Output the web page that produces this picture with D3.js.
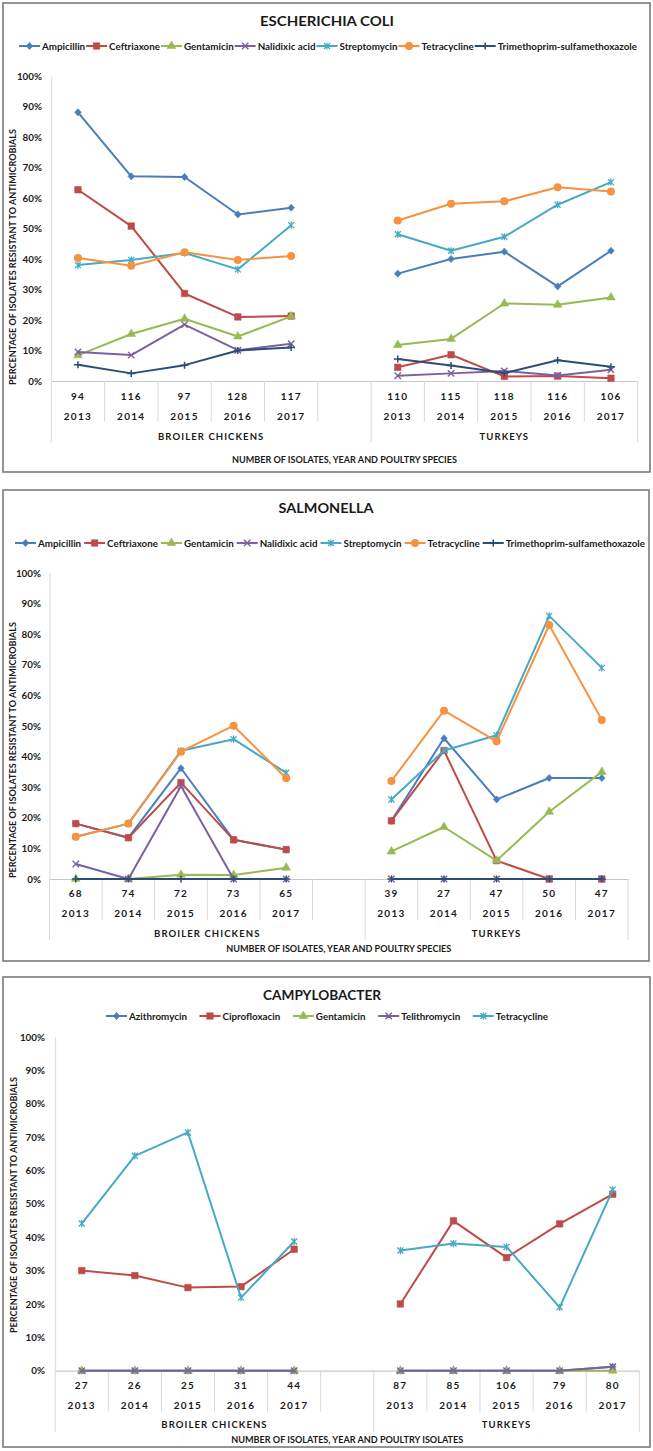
<!DOCTYPE html>
<html><head><meta charset="utf-8">
<script src="https://cdn.jsdelivr.net/npm/d3@7"></script>
<style>body{margin:0;background:#fff}svg{display:block}</style>
</head><body>
<svg id="c" width="653" height="1451"></svg>
<script>
// ---------- shared labels ----------
const years = ["2013","2014","2015","2016","2017"];
const groups = ["BROILER CHICKENS","TURKEYS"];
const yTicks = [0,10,20,30,40,50,60,70,80,90,100];
const yTitle = "PERCENTAGE OF ISOLATES RESISTANT TO ANTIMICROBIALS";

// ---------- Escherichia coli ----------
const ecoliTitle = "ESCHERICHIA COLI";
const ecoliXTitle = "NUMBER OF ISOLATES, YEAR AND POULTRY SPECIES";
const ecoliDrugs = ["Ampicillin","Ceftriaxone","Gentamicin","Nalidixic acid","Streptomycin","Tetracycline","Trimethoprim-sulfamethoxazole"];
const ecoliBroilerN = [94,116,97,128,117];
const ecoliTurkeyN = [110,115,118,116,106];
// values: 5 broiler years then 5 turkey years
const ecoliAmpicillin   = [88.1,67.1,66.9,54.6,56.8, 35.2,40.0,42.4,31.0,42.7];
const ecoliCeftriaxone  = [62.7,50.8,28.7,21.0,21.3,  4.5, 8.6, 1.5, 1.6, 0.9];
const ecoliGentamicin   = [ 8.4,15.4,20.4,14.6,21.2, 11.8,13.8,25.4,25.0,27.4];
const ecoliNalidixic    = [ 9.5, 8.5,18.5,10.1,12.2,  1.7, 2.5, 3.3, 1.8, 3.7];
const ecoliStreptomycin = [38.0,39.7,42.0,36.6,51.1, 48.1,42.7,47.3,57.8,65.2];
const ecoliTetracycline = [40.3,37.8,42.2,39.7,41.0, 52.6,58.1,58.9,63.5,62.1];
const ecoliTmpSmx       = [ 5.3, 2.5, 5.2,10.0,11.0,  7.2, 5.1, 2.6, 6.8, 4.7];

// ---------- Salmonella ----------
const salmTitle = "SALMONELLA";
const salmXTitle = "NUMBER OF ISOLATES, YEAR AND POULTRY SPECIES";
const salmDrugs = ecoliDrugs;
const salmBroilerN = [68,74,72,73,65];
const salmTurkeyN = [39,27,47,50,47];
const salmAmpicillin   = [18.1,13.5,36.2,12.8, 9.6, 19.0,46.0,26.0,33.0,33.0];
const salmCeftriaxone  = [18.1,13.5,31.5,12.8, 9.6, 19.0,42.0, 6.0, 0.0, 0.0];
const salmGentamicin   = [ 0.0, 0.0, 1.4, 1.3, 3.7,  9.0,17.0, 6.0,22.0,35.0];
const salmNalidixic    = [ 4.9, 0.0,30.4, 0.0, 0.0,  0.0, 0.0, 0.0, 0.0, 0.0];
const salmStreptomycin = [13.8,18.1,41.9,45.7,34.7, 26.0,42.0,47.0,86.0,69.0];
const salmTetracycline = [13.8,18.1,41.6,50.1,32.9, 32.0,55.0,45.0,83.0,52.0];
const salmTmpSmx       = [ 0.0, 0.0, 0.0, 0.0, 0.0,  0.0, 0.0, 0.0, 0.0, 0.0];

// ---------- Campylobacter ----------
const campyTitle = "CAMPYLOBACTER";
const campyXTitle = "NUMBER OF ISOLATES, YEAR AND POULTRY ISOLATES";
const campyDrugs = ["Azithromycin","Ciprofloxacin","Gentamicin","Telithromycin","Tetracycline"];
const campyBroilerN = [27,26,25,31,44];
const campyTurkeyN = [87,85,106,79,80];
const campyAzithromycin  = [ 0.0, 0.0, 0.0, 0.0, 0.0,  0.0, 0.0, 0.0, 0.0, 1.2];
const campyCiprofloxacin = [30.0,28.5,24.9,25.2,36.4, 20.0,44.9,33.9,44.0,52.9];
const campyGentamicin    = [ 0.0, 0.0, 0.0, 0.0, 0.0,  0.0, 0.0, 0.0, 0.0, 0.0];
const campyTelithromycin = [ 0.0, 0.0, 0.0, 0.0, 0.0,  0.0, 0.0, 0.0, 0.0, 1.2];
const campyTetracycline  = [44.1,64.4,71.4,21.9,38.7, 36.0,38.1,37.1,19.0,54.2];

// ---------- styling ----------
const seriesColors = ["#4A7EBB","#BE4B48","#98B954","#7D60A0","#46AAC5","#F69240","#2C4D75"];
const markerTypes  = ["diamond","square","triangle","x","star","circle","plus"];
const FONT = "Lato, 'Open Sans', sans-serif";
const TXT = "#1a1a1a";

const svg = d3.select("#c");

function marker(sel, type, color) {
  if (type === "diamond") sel.append("path").attr("d", "M0,-3.6L3.3,0L0,3.6L-3.3,0Z").attr("fill", color).attr("stroke", color).attr("stroke-width", 0.6);
  else if (type === "square") sel.append("path").attr("d", d3.symbol(d3.symbolSquare, 42)()).attr("fill", color).attr("stroke", color).attr("stroke-width", 0.6);
  else if (type === "triangle") sel.append("path").attr("d", d3.symbol(d3.symbolTriangle, 32)()).attr("fill", color).attr("stroke", color).attr("stroke-width", 0.6);
  else if (type === "circle") sel.append("circle").attr("r", 4).attr("fill", color);
  else if (type === "x") sel.append("path").attr("d", "M-3.2,-3.2L3.2,3.2M-3.2,3.2L3.2,-3.2").attr("stroke", color).attr("stroke-width", 1.4).attr("fill", "none");
  else if (type === "star") sel.append("path").attr("d", "M-3,-3L3,3M-3,3L3,-3M0,-3.6L0,3.6").attr("stroke", color).attr("stroke-width", 1.3).attr("fill", "none");
  else if (type === "plus") sel.append("path").attr("d", "M-4,0L4,0M0,-3.5L0,3.5").attr("stroke", color).attr("stroke-width", 1.5).attr("fill", "none");
}

function drawPanel(cfg) {
  const g = svg.append("g");
  const [bx1, by1, bx2, by2] = cfg.box;
  g.append("rect").attr("x", bx1).attr("y", by1).attr("width", bx2 - bx1).attr("height", by2 - by1)
    .attr("fill", "none").attr("stroke", "#7a7a7a").attr("stroke-width", 1.6);

  // title
  g.append("text").attr("x", cfg.titleX).attr("y", cfg.titleY).attr("text-anchor", "middle").attr("dominant-baseline", "central")
    .attr("font-family", FONT).attr("font-weight", "bold").attr("font-size", 13.5).attr("fill", TXT)
    .attr("textLength", cfg.titleW).attr("lengthAdjust", "spacingAndGlyphs").text(cfg.title);

  // scales
  const slots = [...years.map(y => "B" + y), "gap", ...years.map(y => "T" + y)];
  const x = d3.scaleBand().domain(slots).range([cfg.plotLeft, cfg.plotLeft + cfg.slotW * slots.length]).padding(0);
  const y = d3.scaleLinear().domain([0, 100]).range([cfg.y0, cfg.y100]);
  const bw = x.bandwidth();
  const [xl, xr] = x.range();

  // y axis
  const ya = g.append("g").attr("transform", `translate(${xl},0)`)
    .call(d3.axisLeft(y).tickValues(yTicks).tickFormat(d => d + "%").tickSize(0).tickPadding(xl - cfg.tickRight));
  ya.select(".domain").attr("stroke", "#d9d9d9").attr("stroke-width", 1);
  ya.selectAll("text").attr("font-family", FONT).attr("font-weight", "bold").attr("font-size", 9.8).attr("fill", TXT);

  // y title
  g.append("text").attr("transform", `translate(${cfg.yTitleX},${cfg.yTitleCY}) rotate(-90)`)
    .attr("text-anchor", "middle").attr("dominant-baseline", "central")
    .attr("font-family", FONT).attr("font-weight", "bold").attr("font-size", 9.5).attr("fill", TXT)
    .attr("textLength", 256).attr("lengthAdjust", "spacingAndGlyphs").text(yTitle);

  // x axis: counts row
  const counts = {};
  years.forEach((yr, i) => { counts["B" + yr] = cfg.broilerN[i]; counts["T" + yr] = cfg.turkeyN[i]; });
  counts["gap"] = "";
  const xa1 = g.append("g").attr("transform", `translate(0,${cfg.y0})`)
    .call(d3.axisBottom(x).tickSize(0).tickSizeOuter(0).tickPadding(0).tickFormat(d => counts[d]));
  xa1.select(".domain").attr("stroke", "#c8c8c8").attr("stroke-width", 1.2);
  xa1.selectAll("text").attr("dy", null).attr("y", cfg.countsDy).attr("dominant-baseline", "central")
    .attr("font-family", FONT).attr("font-weight", "bold").attr("font-size", 10).attr("letter-spacing", 1.2).attr("fill", TXT);
  // years row
  const xa2 = g.append("g").attr("transform", `translate(0,${cfg.y0})`)
    .call(d3.axisBottom(x).tickSize(0).tickPadding(0).tickFormat(d => d === "gap" ? "" : d.slice(1)));
  xa2.select(".domain").remove();
  xa2.selectAll("text").attr("dy", null).attr("y", cfg.yearsDy).attr("dominant-baseline", "central")
    .attr("font-family", FONT).attr("font-weight", "bold").attr("font-size", 10).attr("letter-spacing", 1.3).attr("fill", TXT);

  // separators
  const bounds = slots.map(s => x(s)).concat([xr]);
  bounds.forEach((bx, k) => {
    const long = (k === 0 || k === 6 || k === 11);
    g.append("line").attr("x1", bx).attr("x2", bx).attr("y1", cfg.y0).attr("y2", cfg.y0 + (long ? 61 : 41))
      .attr("stroke", "#d9d9d9").attr("stroke-width", 1);
  });

  // group labels
  const gc = [(x("B2013") + x("gap") + bw) / 2, (x("T2013") + xr) / 2];
  groups.forEach((lab, i) => {
    g.append("text").attr("x", gc[i]).attr("y", cfg.y0 + cfg.groupDy).attr("text-anchor", "middle").attr("dominant-baseline", "central")
      .attr("font-family", FONT).attr("font-weight", "bold").attr("font-size", 9.5).attr("letter-spacing", 1.1).attr("fill", TXT).text(lab);
  });

  // x title
  g.append("text").attr("x", (xl + xr) / 2).attr("y", cfg.xTitleY).attr("text-anchor", "middle").attr("dominant-baseline", "central")
    .attr("font-family", FONT).attr("font-weight", "bold").attr("font-size", 9.5).attr("fill", TXT)
    .attr("textLength", cfg.xTitleW).attr("lengthAdjust", "spacingAndGlyphs").text(cfg.xTitle);

  // series
  const line = d3.line().x(d => x(d.s) + bw / 2).y(d => y(d.v));
  cfg.series.forEach((vals, si) => {
    const color = seriesColors[si];
    const pts = vals.map((v, i) => ({ s: (i < 5 ? "B" : "T") + years[i % 5], v }));
    [pts.slice(0, 5), pts.slice(5)].forEach(seg => {
      g.append("path").attr("d", line(seg)).attr("fill", "none").attr("stroke", color).attr("stroke-width", 2).attr("stroke-linejoin", "round");
    });
    pts.forEach(p => {
      const m = g.append("g").attr("transform", `translate(${x(p.s) + bw / 2},${y(p.v)})`);
      marker(m, markerTypes[si], color);
    });
  });

  // legend
  const lg = g.append("g").attr("transform", `translate(0,${cfg.legendY})`);
  const items = cfg.drugs.map((name, i) => {
    const it = lg.append("g");
    it.append("line").attr("x1", 0).attr("x2", 21).attr("y1", 0).attr("y2", 0).attr("stroke", seriesColors[i]).attr("stroke-width", 2);
    const mk = it.append("g").attr("transform", "translate(10.5,0)");
    marker(mk, markerTypes[i], seriesColors[i]);
    const t = it.append("text").attr("x", 23).attr("y", 0).attr("dominant-baseline", "central")
      .attr("font-family", FONT).attr("font-weight", "bold").attr("font-size", 9.8).attr("fill", TXT).text(name);
    return { it, w: 23 + t.node().getComputedTextLength() };
  });
  const total = d3.sum(items, d => d.w);
  const gap = (cfg.legendX2 - cfg.legendX1 - total) / (items.length - 1);
  let cx = cfg.legendX1;
  items.forEach(d => { d.it.attr("transform", `translate(${cx},0)`); cx += d.w + gap; });
}

drawPanel({
  box: [3, 3, 650, 472], title: ecoliTitle, titleX: 327, titleY: 21, titleW: 134,
  legendY: 46, legendX1: 19, legendX2: 637, drugs: ecoliDrugs,
  plotLeft: 51.3, slotW: 53.3, y0: 381, y100: 76, tickRight: 42,
  yTitleX: 12.5, yTitleCY: 257, countsDy: 15, yearsDy: 35, groupDy: 55, xTitleY: 459, xTitleW: 225, xTitle: ecoliXTitle,
  broilerN: ecoliBroilerN, turkeyN: ecoliTurkeyN,
  series: [ecoliAmpicillin, ecoliCeftriaxone, ecoliGentamicin, ecoliNalidixic, ecoliStreptomycin, ecoliTetracycline, ecoliTmpSmx]
});

drawPanel({
  box: [3, 490, 649, 961], title: salmTitle, titleX: 326, titleY: 508, titleW: 95,
  legendY: 543, legendX1: 15, legendX2: 645, drugs: salmDrugs,
  plotLeft: 49.5, slotW: 52.6, y0: 879, y100: 573, tickRight: 41,
  yTitleX: 12.5, yTitleCY: 750, countsDy: 14, yearsDy: 34, groupDy: 54, xTitleY: 948, xTitleW: 225, xTitle: salmXTitle,
  broilerN: salmBroilerN, turkeyN: salmTurkeyN,
  series: [salmAmpicillin, salmCeftriaxone, salmGentamicin, salmNalidixic, salmStreptomycin, salmTetracycline, salmTmpSmx]
});

drawPanel({
  box: [3, 977, 650, 1447], title: campyTitle, titleX: 322, titleY: 995, titleW: 118,
  legendY: 1016, legendX1: 106, legendX2: 548, drugs: campyDrugs,
  plotLeft: 55.2, slotW: 53.1, y0: 1370.7, y100: 1037, tickRight: 45,
  yTitleX: 13, yTitleCY: 1205, countsDy: 14, yearsDy: 34, groupDy: 54, xTitleY: 1439.5, xTitleW: 232, xTitle: campyXTitle,
  broilerN: campyBroilerN, turkeyN: campyTurkeyN,
  series: [campyAzithromycin, campyCiprofloxacin, campyGentamicin, campyTelithromycin, campyTetracycline]
});
</script>
</body></html>
